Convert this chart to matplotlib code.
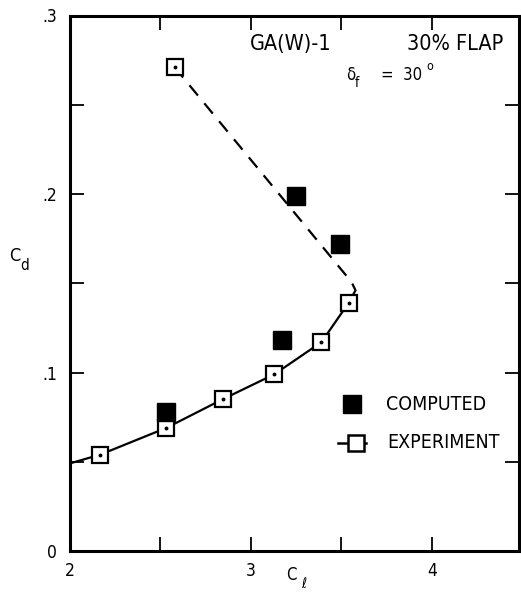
import matplotlib
matplotlib.use('Agg')
import matplotlib.pyplot as plt
from matplotlib.ticker import MultipleLocator, FixedLocator, FixedFormatter

plt.rcParams['font.family'] = ['DejaVu Sans']
plt.rcParams['font.stretch'] = 'condensed'

# GA(W)-1, 30% flap, delta_f = 30 deg
exp_cl = [2.17, 2.535, 2.845, 3.13, 3.39, 3.54, 2.58]
exp_cd = [0.054, 0.069, 0.085, 0.099, 0.117, 0.139, 0.271]

comp_cl = [2.53, 3.175, 3.25, 3.495]
comp_cd = [0.078, 0.118, 0.199, 0.172]

# faired curve: lower branch solid, upper branch dashed
lower_cl = [2.0, 2.17, 2.535, 2.845, 3.13, 3.39, 3.54]
lower_cd = [0.049, 0.054, 0.069, 0.085, 0.099, 0.117, 0.139]
upper_cl = [2.58, 3.556, 3.578, 3.545]
upper_cd = [0.271, 0.1507, 0.146, 0.140]

y_ticks = [0, 0.1, 0.2, 0.3]
y_labels = ['0', '.1', '.2', '.3']
x_ticks = [2, 3, 4]
x_labels = ['2', '3', '4']

fig = plt.figure(figsize=(5.21, 5.97), dpi=100)
ax = fig.add_axes([69.5 / 521, 1 - 551 / 597, 449.5 / 521, 535.5 / 597])

ax.plot(lower_cl, lower_cd, color='black', lw=1.6, zorder=2)
ax.plot(upper_cl, upper_cd, color='black', lw=1.6, dashes=(6, 4.5), zorder=2)

ax.plot(exp_cl, exp_cd, ls='none', marker='s', ms=11.5, mfc='white', mec='black',
        mew=1.6, zorder=3)
ax.plot(exp_cl, exp_cd, ls='none', marker='o', ms=1.8, color='black', zorder=4)
ax.plot(comp_cl, comp_cd, ls='none', marker='s', ms=13, color='black', zorder=3)

ax.set_xlim(2, 4.48)
ax.set_ylim(0, 0.3)
ax.xaxis.set_major_locator(FixedLocator(x_ticks))
ax.xaxis.set_major_formatter(FixedFormatter(x_labels))
ax.xaxis.set_minor_locator(MultipleLocator(0.5))
ax.yaxis.set_major_locator(FixedLocator(y_ticks))
ax.yaxis.set_major_formatter(FixedFormatter(y_labels))
ax.yaxis.set_minor_locator(MultipleLocator(0.05))
ax.tick_params(which='both', direction='in', length=10, width=1.3,
               top=True, right=True, labelsize=12.5)
ax.tick_params(axis='x', pad=8)
ax.tick_params(axis='y', pad=9)
for sp in ax.spines.values():
    sp.set_linewidth(2.2)

# axis titles
fig.text(15 / 521, 1 - 256 / 597, 'C', fontsize=13, ha='center', va='center')
fig.text(25 / 521, 1 - 266 / 597, 'd', fontsize=11, ha='center', va='center')
fig.text(291 / 521, 1 - 575 / 597, 'C', fontsize=12, ha='center', va='center')
fig.text(304 / 521, 1 - 584 / 597, 'ℓ', fontsize=10, ha='center', va='center')

# case description
ax.text(0.401, 0.947, 'GA(W)-1', fontsize=15.5, ha='left', va='center',
        transform=ax.transAxes)
ax.text(0.751, 0.947, '30% FLAP', fontsize=15.5, ha='left', va='center',
        transform=ax.transAxes)
ax.text(0.615, 0.889, 'δ', fontsize=12, ha='left', va='center',
        transform=ax.transAxes)
ax.text(0.634, 0.874, 'f', fontsize=10, ha='left', va='center',
        transform=ax.transAxes)
ax.text(0.692, 0.889, '=  30', fontsize=12, ha='left', va='center',
        transform=ax.transAxes)
ax.text(0.795, 0.905, 'o', fontsize=9, ha='left', va='center',
        transform=ax.transAxes)

# key
ax.plot([0.6285], [0.2745], ls='none', marker='s', ms=13, color='black',
        transform=ax.transAxes, clip_on=False)
ax.plot([0.597, 0.66], [0.2017, 0.2017], color='black', lw=1.8,
        transform=ax.transAxes)
ax.plot([0.637], [0.2017], ls='none', marker='s', ms=11.5, mfc='white',
        mec='black', mew=1.8, transform=ax.transAxes)
ax.text(0.704, 0.2745, 'COMPUTED', fontsize=14, ha='left', va='center',
        transform=ax.transAxes)
ax.text(0.706, 0.2017, 'EXPERIMENT', fontsize=14, ha='left', va='center',
        transform=ax.transAxes)

fig.savefig('out.png', dpi=100)
